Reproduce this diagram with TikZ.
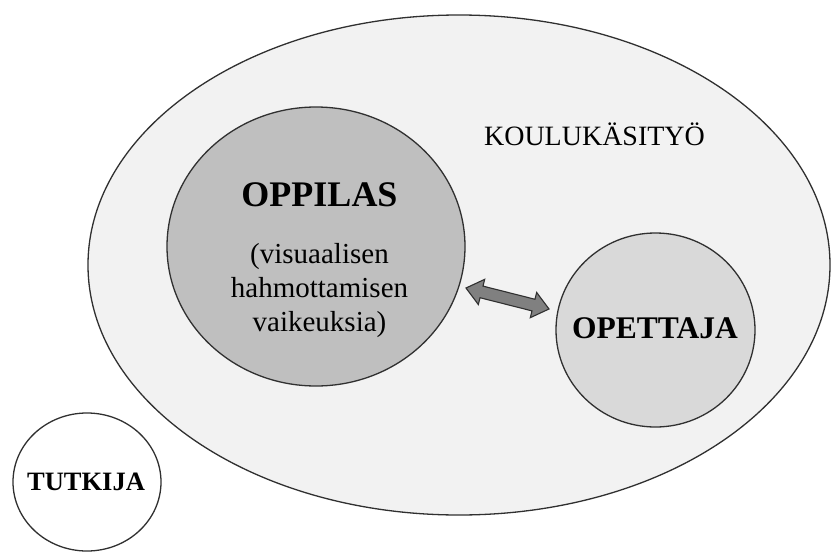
\documentclass[tikz,border=0pt]{standalone}
\usepackage{fontspec}
\setmainfont{Liberation Serif}
\usetikzlibrary{shapes.geometric,calc}
\definecolor{outline}{HTML}{303030}
\definecolor{kfill}{HTML}{F2F2F2}
\definecolor{ofill}{HTML}{BFBFBF}
\definecolor{tfill}{HTML}{D9D9D9}
\definecolor{afill}{HTML}{808080}
\begin{document}
\begin{tikzpicture}[x=1pt,y=-1pt,
  ring/.style={ellipse, draw=outline, line width=1.3pt, inner sep=0pt},
  lbl/.style={anchor=base, inner sep=0pt, text=black},
  plain/.style={lbl, font=\fontsize{29}{34}\selectfont}
]
\useasboundingbox (0,0) rectangle (831,552);
% shapes
\node[ring, fill=kfill, minimum width=742pt, minimum height=500pt] (koulu) at (459,265) {};
\node[ring, fill=ofill, minimum width=298pt, minimum height=279pt] (oppilas) at (316,246.5) {};
\node[ring, fill=tfill, minimum width=199pt, minimum height=194pt] (opettaja) at (655.5,330) {};
\node[ring, fill=white, minimum width=148pt, minimum height=138pt] (tutkija) at (87,482) {};
% texts
\node[lbl, font=\fontsize{28}{32}\selectfont] (kouluT) at (594.5,145) {KOULUKÄSITYÖ};
\node[lbl, font=\fontsize{36}{40}\selectfont\bfseries] (oppilasT) at (319.5,206) {OPPILAS};
\node[plain] (l1) at (319.5,263) {(visuaalisen};
\node[plain] (l2) at (319.5,297) {hahmottamisen};
\node[plain] (l3) at (319.5,331) {vaikeuksia)};
\node[lbl, font=\fontsize{31.5}{36}\selectfont\bfseries] (opettajaT) at (655,338) {OPETTAJA};
\node[lbl, font=\fontsize{26.5}{30}\selectfont\bfseries] (tutkijaT) at (86,490) {TUTKIJA};
% double arrow between oppilas and opettaja
\coordinate (s) at (466,288);
\coordinate (t) at (549,309);
\coordinate (h1) at ($(s)!16pt!(t)$);
\coordinate (h2) at ($(t)!16pt!(s)$);
\draw[draw=outline, line width=1.1pt, fill=afill, line join=miter]
  (s) -- ($(h1)!13pt!90:(t)$) -- ($(h1)!6pt!90:(t)$) -- ($(h2)!6pt!-90:(s)$)
  -- ($(h2)!13pt!-90:(s)$) -- (t) -- ($(h2)!13pt!90:(s)$) -- ($(h2)!6pt!90:(s)$)
  -- ($(h1)!6pt!-90:(t)$) -- ($(h1)!13pt!-90:(t)$) -- cycle;
\end{tikzpicture}
\end{document}
